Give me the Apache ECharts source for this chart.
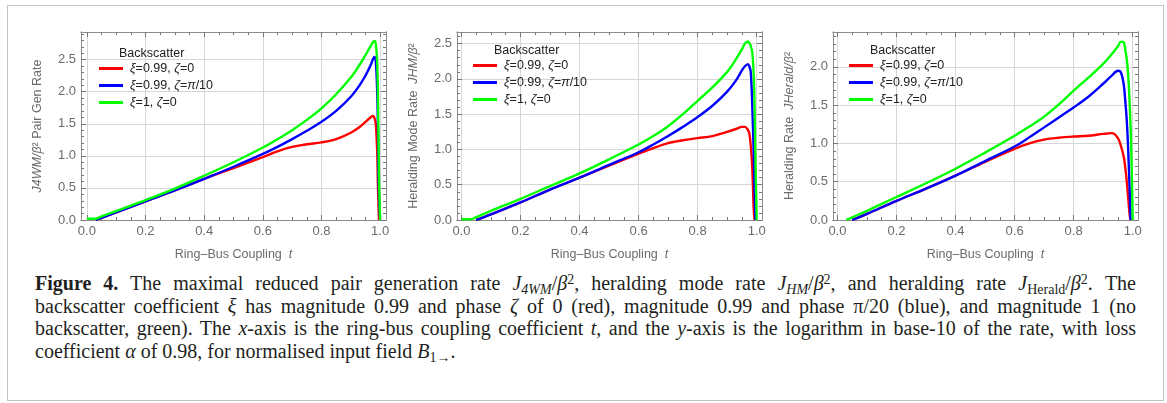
<!DOCTYPE html>
<html>
<head>
<meta charset="utf-8">
<script src="https://cdn.jsdelivr.net/npm/echarts@6/dist/echarts.min.js"></script>
<style>
  html, body { margin: 0; padding: 0; background: #fff; }
  #wrap { position: relative; width: 1167px; height: 403px; overflow: hidden; }
  #box { position: absolute; left: 7px; top: 5px; width: 1155px; height: 394px; border: 1.5px solid #c4c4c4; }
  #chart { position: absolute; left: 0; top: 0; width: 1167px; height: 268px; }
  #caption { position: absolute; left: 35px; top: 272px; width: 1101px;
    font-family: "Liberation Serif", "DejaVu Serif", serif; font-size: 20px; line-height: 22.5px; color: #231f20; }
  #caption div.j { text-align: justify; text-align-last: justify; }
  #caption sub, #caption sup { font-size: 70%; line-height: 0; position: relative; vertical-align: baseline; }
  #caption sub { top: 0.3em; }
  #caption sup { top: -0.45em; }
</style>
</head>
<body>
<div id="wrap">
  <div id="box"></div>
  <div id="chart"></div>
  <div id="caption">
    <div class="j"><b>Figure 4.</b> The maximal reduced pair generation rate <i>J</i><sub><i>4WM</i></sub>/<i>β</i><sup>2</sup>, heralding mode rate <i>J</i><sub><i>HM</i></sub>/<i>β</i><sup>2</sup>, and heralding rate <i>J</i><sub>Herald</sub>/<i>β</i><sup>2</sup>. The</div>
    <div class="j">backscatter coefficient <i>ξ</i> has magnitude 0.99 and phase <i>ζ</i> of 0 (red), magnitude 0.99 and phase π/20 (blue), and magnitude 1 (no</div>
    <div class="j">backscatter, green). The <i>x</i>-axis is the ring-bus coupling coefficient <i>t</i>, and the <i>y</i>-axis is the logarithm in base-10 of the rate, with loss</div>
    <div>coefficient <i>α</i> of 0.98, for normalised input field <i>B</i><sub>1→</sub>.</div>
  </div>
</div>
<script>
// ring-bus coupling t (shared by all curves)
var tVals = [0, 0.03, 0.05, 0.1, 0.2, 0.3, 0.4, 0.5, 0.6, 0.65, 0.7, 0.75, 0.8, 0.85, 0.9, 0.93, 0.95, 0.96, 0.97, 0.975, 0.98, 0.985, 0.99, 0.993, 0.996, 1.0];

// J4WM / beta^2
var pairRed   = [null, 0, 0.035, 0.12, 0.29, 0.46, 0.64, 0.81, 0.98, 1.07, 1.14, 1.18, 1.21, 1.26, 1.36, 1.45, 1.53, 1.57, 1.61, 1.62, 1.6, 1.5, 1.06, 0.44, 0, null];
var pairBlue  = [null, 0, 0.035, 0.12, 0.29, 0.46, 0.64, 0.83, 1.03, 1.14, 1.26, 1.39, 1.53, 1.7, 1.92, 2.1, 2.25, 2.34, 2.44, 2.5, 2.54, 2.48, 2.0, 1.3, 0.4, 0];
var pairGreen = [0.02, 0.02, 0.055, 0.14, 0.31, 0.49, 0.69, 0.9, 1.13, 1.26, 1.4, 1.56, 1.74, 1.96, 2.22, 2.42, 2.57, 2.65, 2.73, 2.77, 2.79, 2.75, 2.45, 1.8, 0.7, 0];

// JHM / beta^2
var hmRed   = [null, null, 0, 0.08, 0.25, 0.43, 0.6, 0.77, 0.94, 1.02, 1.09, 1.13, 1.16, 1.19, 1.25, 1.29, 1.32, 1.32, 1.28, 1.23, 1.05, 0.75, 0.15, 0, null, null];
var hmBlue  = [null, null, 0, 0.08, 0.25, 0.43, 0.6, 0.78, 0.96, 1.07, 1.19, 1.32, 1.46, 1.62, 1.82, 1.98, 2.12, 2.18, 2.21, 2.18, 2.1, 1.62, 0.95, 0.4, 0, null];
var hmGreen = [0.01, 0.01, 0.04, 0.13, 0.3, 0.48, 0.66, 0.86, 1.07, 1.19, 1.33, 1.5, 1.69, 1.88, 2.1, 2.28, 2.42, 2.5, 2.53, 2.51, 2.46, 2.38, 2.05, 1.58, 0.8, 0];

// JHerald / beta^2
var herRed   = [null, null, 0, 0.08, 0.25, 0.41, 0.58, 0.76, 0.93, 1.0, 1.05, 1.075, 1.09, 1.1, 1.125, 1.135, 1.07, 0.97, 0.82, 0.68, 0.5, 0.28, 0.06, 0, null, null];
var herBlue  = [null, null, 0, 0.08, 0.25, 0.41, 0.58, 0.77, 0.96, 1.08, 1.21, 1.34, 1.47, 1.61, 1.78, 1.89, 1.95, 1.93, 1.76, 1.55, 1.3, 0.9, 0.35, 0, null, null];
var herGreen = [null, 0, 0.035, 0.12, 0.3, 0.48, 0.67, 0.88, 1.1, 1.22, 1.35, 1.51, 1.69, 1.86, 2.04, 2.17, 2.27, 2.33, 2.32, 2.22, 2.1, 1.88, 1.5, 1.2, 0.8, 0];

var seriesNames = ['ξ=0.99, ζ=0', 'ξ=0.99, ζ=π/10', 'ξ=1, ζ=0'];
var legendText = ['{i|ξ}=0.99, {i|ζ}=0', '{i|ξ}=0.99, {i|ζ}={i|π}/10', '{i|ξ}=1, {i|ζ}=0'];
var colors = ['#ff0000', '#0000ff', '#00ff00'];

var xMajor = [0, 0.2, 0.4, 0.6, 0.8, 1.0];
var yTop = [2.93, 2.665, 2.456];
var yMajor = [[0, 0.5, 1.0, 1.5, 2.0, 2.5], [0, 0.5, 1.0, 1.5, 2.0, 2.5], [0, 0.5, 1.0, 1.5, 2.0]];
var yNames = [
    '{i|J4WM/β}² Pair Gen Rate',
    'Heralding Mode Rate  {i|JHM/β}²',
    'Heralding Rate  {i|JHerald/β}²'
];
var panelData = [[pairRed, pairBlue, pairGreen], [hmRed, hmBlue, hmGreen], [herRed, herBlue, herGreen]];
var gridLeft = [81, 457, 833];
var legendPos = [{left: 94, top: 57, title: 119, titleTop: 47}, {left: 468, top: 54, title: 494, titleTop: 44}, {left: 844, top: 54, title: 870, titleTop: 44}];

function steps(a, b, d) {
    var out = [];
    for (var v = a; v <= b + 1e-9; v += d) out.push(Math.round(v * 1000) / 1000);
    return out;
}

var axisGray = '#8c8c8c';
var font = 'Liberation Sans, Arial, sans-serif';
var labelStyle = {color: '#6b6b6b', fontSize: 13, fontFamily: font};

// one axis of the frame: line + inward ticks (+ labels / grid lines if asked)
function frameAxis(grid, pos, min, max, ticks, len, opts) {
    opts = opts || {};
    return {
        type: 'value', gridIndex: grid, position: pos, min: min, max: max,
        axisLine: {show: true, onZero: false, lineStyle: {color: axisGray, width: 1}},
        axisTick: {show: true, inside: true, length: len, customValues: ticks, lineStyle: {color: '#777', width: 1}},
        axisLabel: opts.labels ? Object.assign({show: true, customValues: ticks, margin: opts.margin,
            formatter: function (v) { return v.toFixed(1); }}, labelStyle) : {show: false},
        splitLine: {show: !!opts.split, lineStyle: {color: '#d6d6d6', width: 1}},
        name: opts.name || '', nameLocation: 'middle', nameGap: opts.nameGap || 0,
        nameTextStyle: Object.assign({}, labelStyle, {fontSize: 12.5, rich: {i: {fontStyle: 'italic', fontSize: 12.5, color: '#6b6b6b', fontFamily: font}}})
    };
}

var grids = [], xAxes = [], yAxes = [], series = [], legends = [], titles = [];
for (var p = 0; p < 3; p++) {
    grids.push({left: gridLeft[p], top: 32, width: 305, height: 188});
    var xMin = p === 0 ? -0.02 : -0.015, xMax = p === 0 ? 1.02 : 1.018;
    var xMinor = steps(0, 1, 0.05);
    var yMinor = steps(0, Math.floor(yTop[p] * 10) / 10, 0.1);
    xAxes.push(frameAxis(p, 'bottom', xMin, xMax, xMajor, 5, {labels: true, split: true, margin: 5,
        name: 'Ring–Bus Coupling  {i|t}', nameGap: 28}));
    xAxes.push(frameAxis(p, 'bottom', xMin, xMax, xMinor, 3));
    xAxes.push(frameAxis(p, 'top', xMin, xMax, xMajor, 5));
    xAxes.push(frameAxis(p, 'top', xMin, xMax, xMinor, 3));
    yAxes.push(frameAxis(p, 'left', 0, yTop[p], yMajor[p], 5, {labels: true, split: true, margin: 5,
        name: yNames[p], nameGap: 37}));
    yAxes.push(frameAxis(p, 'left', 0, yTop[p], yMinor, 3));
    yAxes.push(frameAxis(p, 'right', 0, yTop[p], yMajor[p], 5));
    yAxes.push(frameAxis(p, 'right', 0, yTop[p], yMinor, 3));

    for (var s = 0; s < 3; s++) {
        var vals = panelData[p][s];
        var pts = [];
        tVals.forEach(function (t, i) { if (vals[i] !== null) pts.push([t, vals[i]]); });
        series.push({
            name: seriesNames[s], type: 'line', xAxisIndex: p * 4, yAxisIndex: p * 4,
            data: pts, showSymbol: false, smooth: 0.35, color: colors[s],
            lineStyle: {width: 2.4, color: colors[s]}, animation: false
        });
    }

    legends.push({
        orient: 'vertical', left: legendPos[p].left, top: legendPos[p].top, itemGap: 4,
        itemWidth: 24, itemHeight: 3, icon: 'rect', data: seriesNames,
        formatter: function (n) { return legendText[seriesNames.indexOf(n)]; },
        textStyle: {color: '#222', fontSize: 12.5, fontFamily: font, padding: [0, 0, 0, 2],
            rich: {i: {fontStyle: 'italic', fontSize: 12.5, color: '#222', fontFamily: font}}}
    });
    titles.push({text: 'Backscatter', left: legendPos[p].title, top: legendPos[p].titleTop, padding: 0,
        textStyle: {color: '#222', fontSize: 12.5, fontWeight: 'normal', fontFamily: font}});
}

var myChart = echarts.init(document.getElementById('chart'));
var option = {
    animation: false,
    title: titles,
    legend: legends,
    grid: grids,
    xAxis: xAxes,
    yAxis: yAxes,
    series: series
};
myChart.setOption(option);
</script>
</body>
</html>
